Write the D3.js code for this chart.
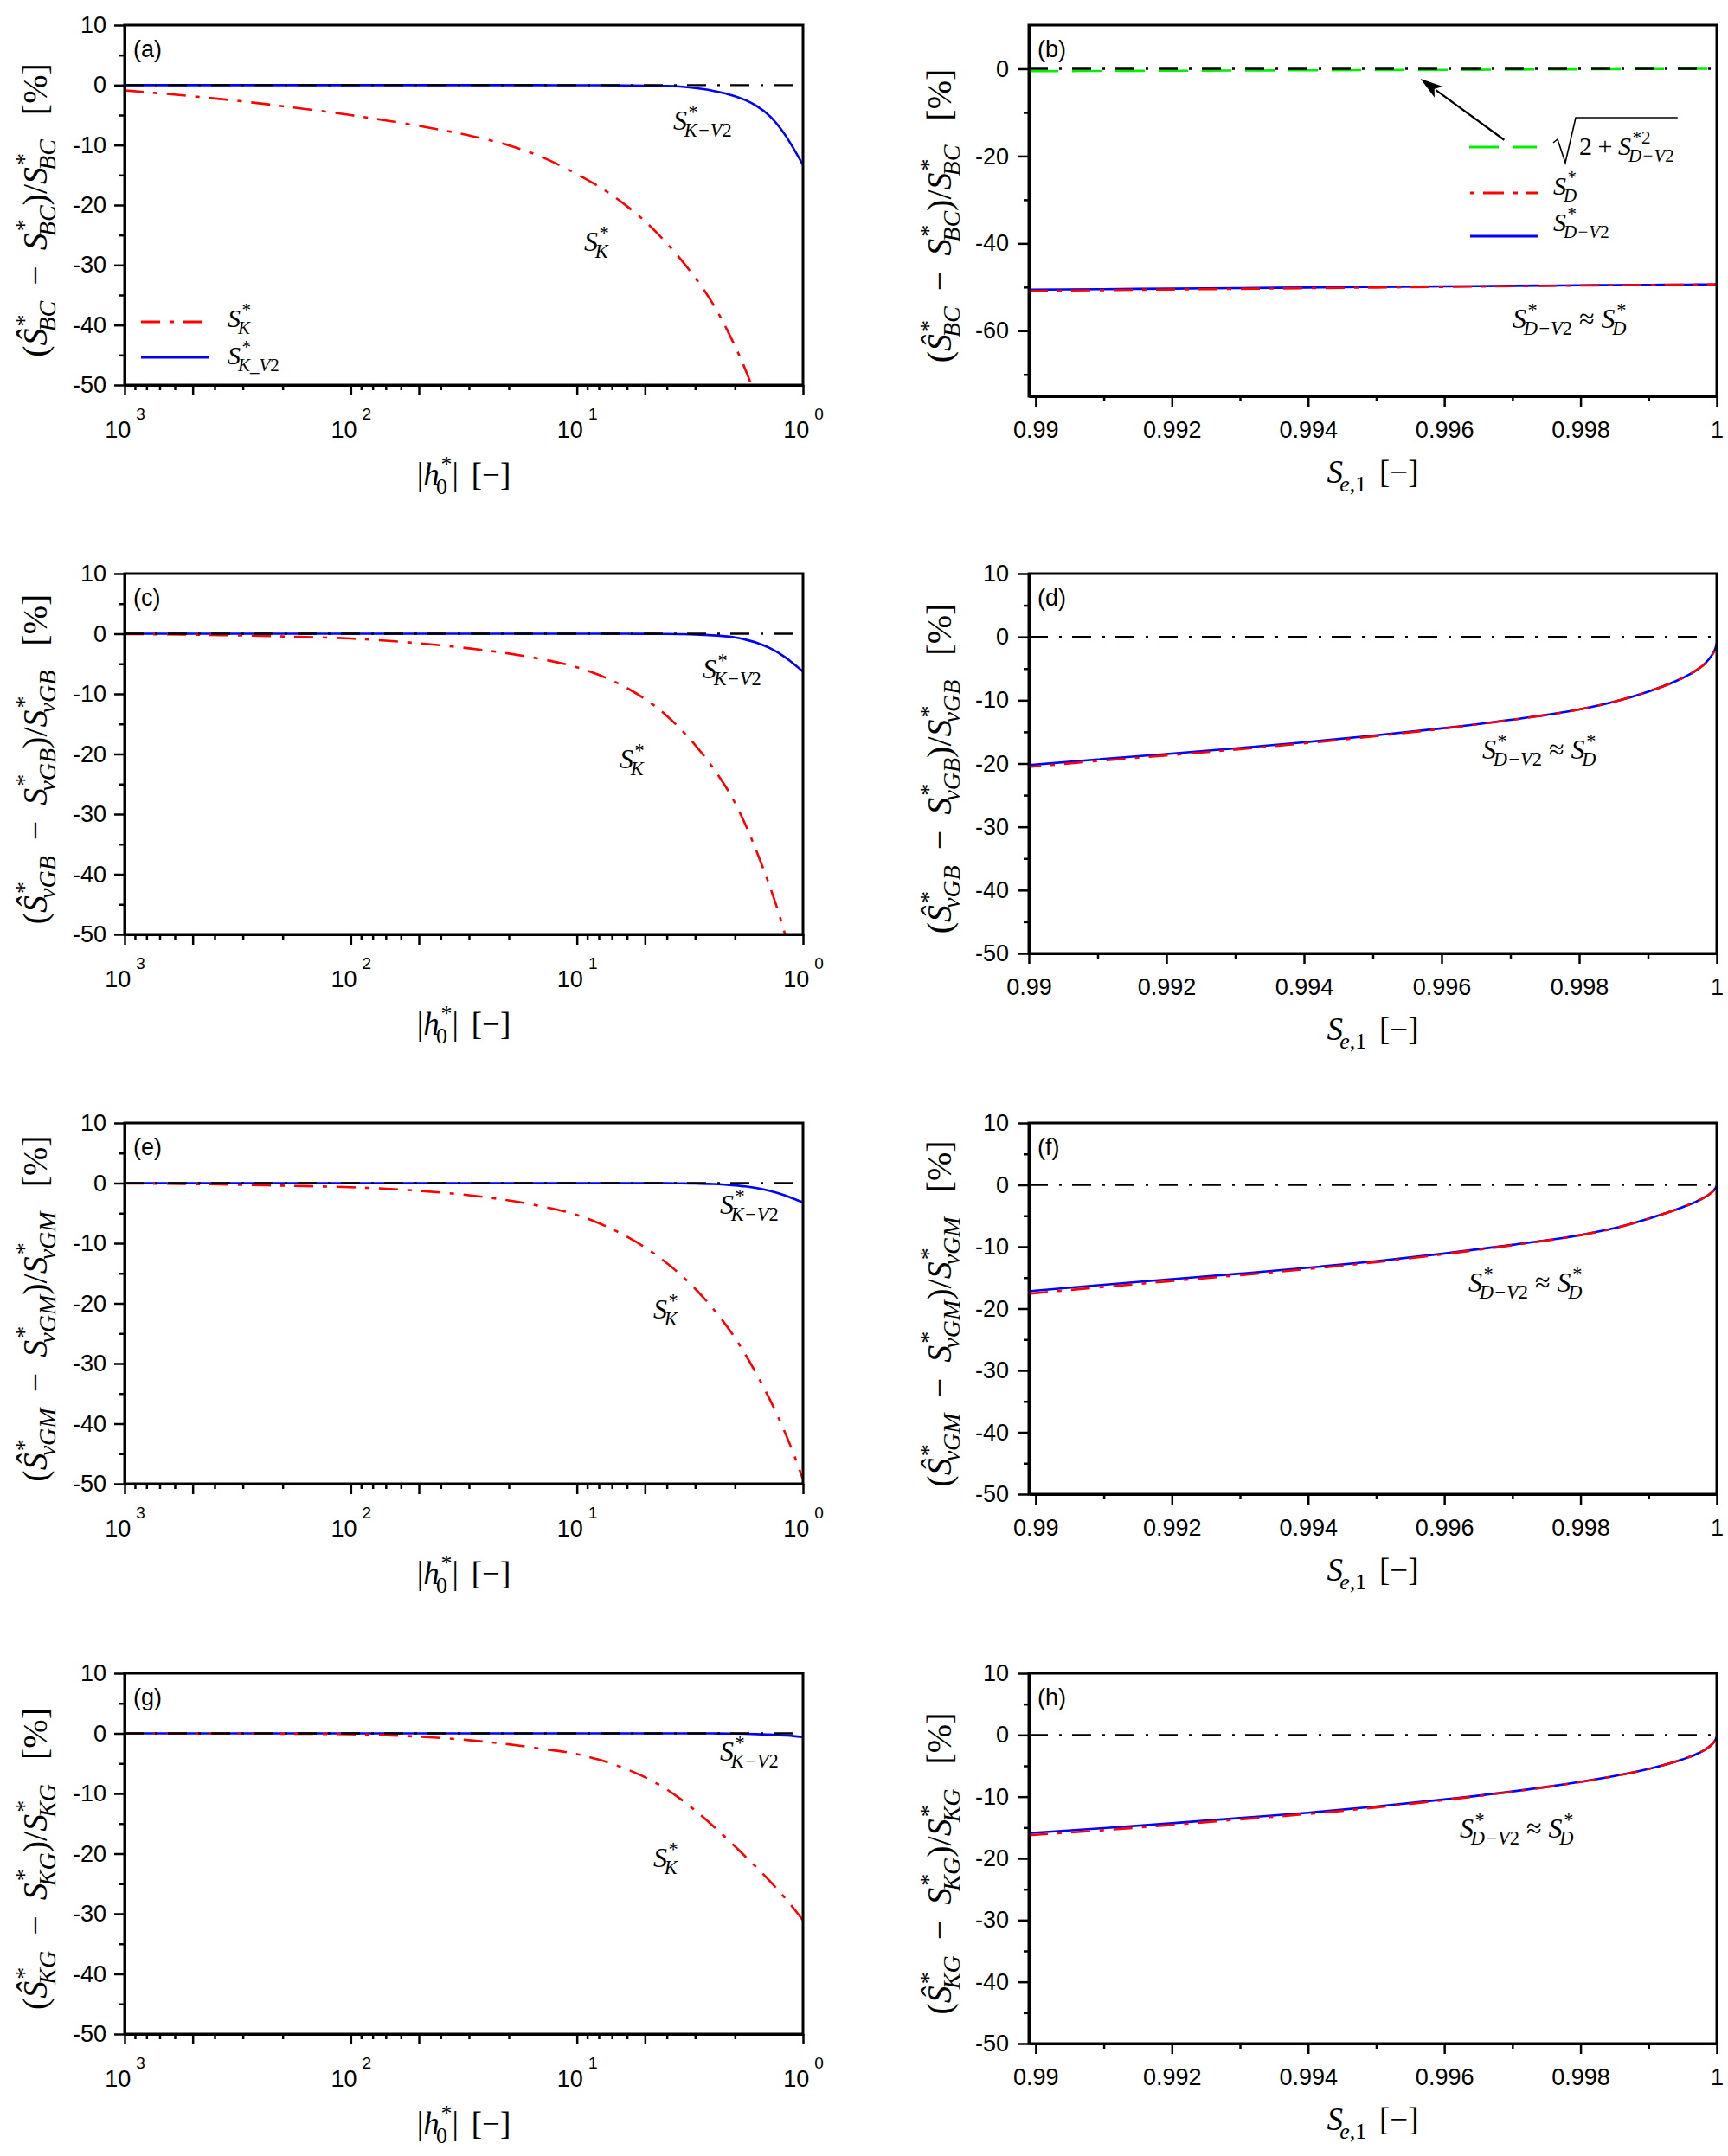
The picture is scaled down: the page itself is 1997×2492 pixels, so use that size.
<!DOCTYPE html>
<html><head><meta charset="utf-8">
<script src="https://cdn.jsdelivr.net/npm/d3@7"></script>
<style>body{margin:0;background:#fff}</style>
</head><body>
<svg id="fig" width="1997" height="2492" xmlns="http://www.w3.org/2000/svg"></svg>
<script>
// ---------------- DATA ----------------
// left panels: x = |h0*| (log axis, reversed)
const hGrid = [1000,700,500,300,200,100,70,50,30,20,15,10,8,6,5,4,3.5,3,2.5,2,1.8,1.6,1.4,1.2,1.1,1];
const hKa = [1000,700,500,300,200,100,70,50,30,20,15,10,8,6,5,4,3.5,3,2.5,2,1.8,1.7,1.68];
const Ka  = [-0.88,-1.37,-1.87,-2.73,-3.51,-5.01,-5.89,-6.8,-8.4,-10.04,-11.67,-14.84,-16.9,-20.2,-22.7,-26.4,-28.9,-32.1,-36.5,-43.5,-47.4,-49.9,-50.6];
const KV2a = [0,0,0,0,0,0,0,0,0,0,-0.01,-0.02,-0.03,-0.06,-0.1,-0.15,-0.25,-0.5,-0.95,-1.85,-2.5,-3.5,-5.2,-8.3,-10.6,-13.3];
const hKc = [1000,700,500,300,200,100,70,50,30,20,15,10,8,6,5,4,3.5,3,2.5,2,1.8,1.6,1.4,1.25,1.2];
const Kc  = [-0.05,-0.1,-0.16,-0.3,-0.45,-0.8,-1.15,-1.59,-2.43,-3.29,-4.08,-5.58,-6.84,-9.03,-10.85,-13.66,-15.75,-18.5,-22.3,-28.1,-31.7,-36.3,-42.1,-47.7,-50.0];
const KV2c = [0,0,0,0,0,0,0,0,0,0,0,0,-0.01,-0.01,-0.02,-0.04,-0.07,-0.12,-0.27,-0.62,-0.98,-1.5,-2.4,-3.9,-5.0,-6.3];
const Ke  = [-0.05,-0.1,-0.15,-0.28,-0.42,-0.68,-0.93,-1.28,-2.01,-2.89,-3.72,-5.3,-6.66,-8.91,-10.69,-13.31,-15.14,-17.55,-20.87,-25.72,-28.48,-31.85,-36.03,-41.52,-45.02,-49.3];
const KV2e = [0,0,0,0,0,0,0,0,0,0,0,0,0,0,-0.01,-0.02,-0.03,-0.06,-0.15,-0.38,-0.55,-0.83,-1.3,-2.05,-2.6,-3.2];
const Kg  = [0,-0.01,-0.02,-0.03,-0.05,-0.15,-0.3,-0.55,-1.13,-1.82,-2.44,-3.45,-4.37,-5.99,-7.29,-9.33,-10.84,-12.82,-15.39,-18.78,-20.46,-22.35,-24.6,-27.4,-29.1,-31.1];
const KV2g = [0,0,0,0,0,0,0,0,0,0,0,0,0,0,0,0,0,0,-0.01,-0.04,-0.07,-0.12,-0.2,-0.35,-0.45,-0.6];

// right panels: x = S_e,1
const seGrid = [0.9899,0.991,0.992,0.993,0.994,0.995,0.996,0.997,0.998,0.9985,0.999,0.9995,0.9997,0.9998,0.99988,0.99994,0.99998,1];
const DV2b = [-50.6,-50.47,-50.35,-50.22,-50.1,-49.97,-49.85,-49.72,-49.6,-49.54,-49.48,-49.44,-49.42,-49.41,-49.41,-49.4,-49.4,-49.4];
const Db   = [-50.9,-50.7,-50.55,-50.4,-50.25,-50.1,-49.95,-49.8,-49.65,-49.58,-49.51,-49.45,-49.43,-49.42,-49.41,-49.4,-49.4,-49.4];
const SQb  = [-0.55,-0.5,-0.45,-0.4,-0.35,-0.3,-0.25,-0.19,-0.12,-0.09,-0.06,-0.03,-0.02,-0.015,-0.01,-0.005,0,0];
const DV2d = [-20.35,-19.35,-18.5,-17.6,-16.65,-15.6,-14.45,-13.1,-11.45,-10.25,-8.65,-6.5,-5.3,-4.5,-3.6,-2.7,-1.8,-1.0];
const Dd   = [-20.65,-19.6,-18.72,-17.8,-16.82,-15.72,-14.52,-13.14,-11.47,-10.26,-8.65,-6.5,-5.3,-4.5,-3.6,-2.7,-1.8,-1.0];
const DV2f = [-17.2,-16.15,-15.25,-14.35,-13.4,-12.35,-11.1,-9.7,-8.1,-7.0,-5.45,-3.6,-2.7,-2.15,-1.6,-1.07,-0.56,-0.1];
const Df   = [-17.6,-16.5,-15.55,-14.6,-13.6,-12.5,-11.2,-9.76,-8.13,-7.02,-5.45,-3.6,-2.7,-2.15,-1.6,-1.07,-0.56,-0.1];
const DV2h = [-15.9,-15.1,-14.3,-13.45,-12.6,-11.6,-10.45,-9.15,-7.6,-6.65,-5.5,-3.95,-3.1,-2.55,-1.98,-1.4,-0.8,-0.3];
const Dh   = [-16.25,-15.42,-14.58,-13.68,-12.8,-11.75,-10.55,-9.2,-7.62,-6.66,-5.5,-3.95,-3.1,-2.55,-1.98,-1.4,-0.8,-0.3];

// tick values
const xMajL = [1000,500,100,50,10,5,1];
const xMinL = [900,800,700,600,400,300,200,90,80,70,60,40,30,20,9,8,7,6,4,3,2];
const xMajR = [0.99,0.992,0.994,0.996,0.998,1];
const xMinR = [0.991,0.993,0.995,0.997,0.999];
const yMaj10 = [10,0,-10,-20,-30,-40,-50];
const yMin10 = [5,-5,-15,-25,-35,-45];
const yMajB = [0,-20,-40,-60];
const yMinB = [-10,-30,-50,-70];

// ---------------- STYLE ----------------
const SERIF = "'Liberation Serif','DejaVu Serif',serif";
const SANS = "'Liberation Sans',Arial,sans-serif";
const RED = '#ff0000', BLUE = '#0000ff', GREEN = '#00ee00';
const DASH_RED = '22,11,5,11', DASH_REF = '22,13,3,12', DASH_GREEN = '34,16';
const TICK_FS = 27, ANN_FS = 32, LEG_FS = 30;

const svg = d3.select('#fig');
svg.append('rect').attr('width',1997).attr('height',2492).attr('fill','#fff');

// -------- math text helper --------
function segs(v){ return typeof v === 'string' ? [{s:v,it:true}] : v; }
function addText(g, list, x, y, size){
  const t = g.append('text').attr('x',x).attr('y',y).attr('font-family',SERIF).attr('font-size',size).attr('fill','#000');
  list.forEach(p => t.append('tspan').attr('font-style', p.it ? 'italic' : 'normal').text(p.s));
  return t.node().getComputedTextLength();
}
function drawMath(parent, tokens, o){
  const size = o.size;
  const outer = parent.append('g');
  const g = outer.append('g');
  let x = 0;
  tokens.forEach(tk => {
    if (tk.space !== undefined){ x += tk.space*size; return; }
    const w = addText(g, [{s:tk.s, it:!!tk.it}], x, 0, size);
    const ss = size*0.7;
    let wsup = 0, wsub = 0;
    const supDx = tk.it ? 0.05*size : 0.02*size;
    const subDx = tk.it ? -0.1*size : 0.01*size;
    if (tk.sup) wsup = supDx + addText(g, segs(tk.sup), x + w + supDx, -0.42*size, ss);
    if (tk.sub) wsub = subDx + addText(g, segs(tk.sub), x + w + subDx, 0.26*size, ss);
    x += w + Math.max(wsup, wsub, 0);
  });
  const off = o.anchor === 'middle' ? -x/2 : 0;
  g.attr('transform', `translate(${off},0)`);
  if (o.rotate) outer.attr('transform', `translate(${o.x},${o.y}) rotate(-90)`);
  else outer.attr('transform', `translate(${o.x},${o.y})`);
  outer.attr('data-w', x);
  return outer;
}

// -------- panels --------
const panels = [
 {id:'a', col:0, top:29,   bottom:445,  sub:'BC',  K:[hKa,Ka],   KV2:[hGrid,KV2a], labKV2:[778,150],  labK:[675,290],  legend:true},
 {id:'c', col:0, top:663,  bottom:1080, sub:'vGB', K:[hKc,Kc],   KV2:[hGrid,KV2c], labKV2:[812,784],  labK:[716,888]},
 {id:'e', col:0, top:1298, bottom:1715, sub:'vGM', K:[hGrid,Ke], KV2:[hGrid,KV2e], labKV2:[832,1403], labK:[755,1524]},
 {id:'g', col:0, top:1934, bottom:2351, sub:'KG',  K:[hGrid,Kg], KV2:[hGrid,KV2g], labKV2:[832,2035], labK:[755,2158]},
 {id:'b', col:1, top:29,   bottom:458,  sub:'BC',  yDom:[-75,10], yMaj:yMajB, yMin:yMinB, xLo:0.9899, D:Db, DV2:DV2b, SQ:SQb, lab:[1748,379]},
 {id:'d', col:1, top:663,  bottom:1102, sub:'vGB', yDom:[-50,10], yMaj:yMaj10, yMin:yMin10, xLo:0.99,   D:Dd, DV2:DV2d, lab:[1713,877]},
 {id:'f', col:1, top:1298, bottom:1727, sub:'vGM', yDom:[-50,10], yMaj:yMaj10, yMin:yMin10, xLo:0.9899, D:Df, DV2:DV2f, lab:[1697,1493]},
 {id:'h', col:1, top:1934, bottom:2362, sub:'KG',  yDom:[-50,10], yMaj:yMaj10, yMin:yMin10, xLo:0.9899, D:Dh, DV2:DV2h, lab:[1687,2124]},
];
const COLX = [[144,928],[1189,1984]];

function styleAxis(ax, withText){
  ax.select('.domain').attr('stroke-width',3);
  ax.selectAll('.tick line').attr('stroke-width',2.5);
  if (withText) ax.selectAll('.tick text').attr('font-family',SANS).attr('font-size',TICK_FS).attr('fill','#000');
  else ax.selectAll('.tick text').remove();
}

function drawLine(g, xs, ys, x, y, color, width, dash){
  const data = xs.map((v,i)=>[v, ys[i]]);
  data.sort((p,q)=>x(p[0])-x(q[0]));
  const line = d3.line().x(d=>x(d[0])).y(d=>y(d[1])).curve(d3.curveMonotoneX);
  g.append('path').attr('d', line(data)).attr('fill','none').attr('stroke',color)
    .attr('stroke-width',width).attr('stroke-dasharray', dash || null).attr('stroke-linejoin','round');
}

const STAR = [{s:'*',it:false}];

panels.forEach(p => {
  const [x0,x1] = COLX[p.col];
  const top = p.top, bot = p.bottom;
  const g = svg.append('g');
  let x, y;
  if (p.col === 0){
    x = d3.scaleLog().domain([1000,1]).range([x0,x1]);
    y = d3.scaleLinear().domain([-50,10]).range([bot,top]);
  } else {
    x = d3.scaleLinear().domain([p.xLo,1]).range([x0,x1]);
    y = d3.scaleLinear().domain(p.yDom).range([bot,top]);
  }
  const clipId = 'clip'+p.id;
  svg.append('clipPath').attr('id',clipId).append('rect').attr('x',x0).attr('y',top).attr('width',x1-x0).attr('height',bot-top);
  const dg = g.append('g').attr('clip-path',`url(#${clipId})`);
  const xd = x.domain();

  if (p.col === 0){
    drawLine(dg, p.KV2[0], p.KV2[1], x, y, BLUE, 2.6);
    drawLine(dg, p.K[0], p.K[1], x, y, RED, 2.6, DASH_RED);
    drawLine(dg, xd, [0,0], x, y, '#000', 2.4, DASH_REF);
  } else {
    if (p.SQ) drawLine(dg, seGrid, p.SQ, x, y, GREEN, 2.6, DASH_GREEN);
    drawLine(dg, xd, [0,0], x, y, '#000', 2.4, DASH_REF);
    drawLine(dg, seGrid, p.DV2, x, y, BLUE, 2.6);
    drawLine(dg, seGrid, p.D, x, y, RED, 2.6, DASH_RED);
  }

  // axes
  if (p.col === 0){
    const ax = g.append('g').attr('transform',`translate(0,${bot})`)
      .call(d3.axisBottom(x).tickValues(xMajL).tickSize(12).tickSizeOuter(0).tickPadding(30).tickFormat(d=>String(d)));
    styleAxis(ax, true);
    ax.selectAll('.tick text').each(function(d){
      const t = d3.select(this);
      const e = Math.round(Math.log10(d));
      if (Math.abs(Math.log10(d) - e) > 1e-9){ t.text(''); return; }
      t.text(null);
      t.append('tspan').text('10');
      t.append('tspan').attr('font-size',19).attr('dx',6).attr('dy',-21).text(String(e));
    });
    const axm = g.append('g').attr('transform',`translate(0,${bot})`)
      .call(d3.axisBottom(x).tickValues(xMinL).tickSize(6).tickSizeOuter(0).tickFormat(''));
    styleAxis(axm, false);
    axm.select('.domain').remove();
    const ay = g.append('g').attr('transform',`translate(${x0},0)`)
      .call(d3.axisLeft(y).tickValues(yMaj10).tickSize(12).tickSizeOuter(0).tickPadding(9).tickFormat(d=>String(d)));
    styleAxis(ay, true);
    const aym = g.append('g').attr('transform',`translate(${x0},0)`)
      .call(d3.axisLeft(y).tickValues(yMin10).tickSize(6).tickSizeOuter(0).tickFormat(''));
    styleAxis(aym, false); aym.select('.domain').remove();
  } else {
    const ax = g.append('g').attr('transform',`translate(0,${bot})`)
      .call(d3.axisBottom(x).tickValues(xMajR).tickSize(12).tickSizeOuter(0).tickPadding(17)
        .tickFormat(d => d===1 ? '1' : d3.format('.3~f')(d)));
    styleAxis(ax, true);
    const axm = g.append('g').attr('transform',`translate(0,${bot})`)
      .call(d3.axisBottom(x).tickValues(xMinR).tickSize(6).tickSizeOuter(0).tickFormat(''));
    styleAxis(axm, false); axm.select('.domain').remove();
    const ay = g.append('g').attr('transform',`translate(${x0},0)`)
      .call(d3.axisLeft(y).tickValues(p.yMaj).tickSize(12).tickSizeOuter(0).tickPadding(11).tickFormat(d=>String(d)));
    styleAxis(ay, true);
    const aym = g.append('g').attr('transform',`translate(${x0},0)`)
      .call(d3.axisLeft(y).tickValues(p.yMin).tickSize(6).tickSizeOuter(0).tickFormat(''));
    styleAxis(aym, false); aym.select('.domain').remove();
  }
  // frame
  g.append('rect').attr('x',x0).attr('y',top).attr('width',x1-x0).attr('height',bot-top)
    .attr('fill','none').attr('stroke','#000').attr('stroke-width',3);

  // panel label
  g.append('text').attr('x',x0+10).attr('y',top+37).attr('font-family',SANS).attr('font-size',TICK_FS).text(`(${p.id})`);

  // y title
  const s = p.sub;
  drawMath(g, [{s:'('},{s:'Ŝ',it:true,sup:STAR,sub:s},{space:0.45},{s:'−'},{space:0.45},
               {s:'S',it:true,sup:STAR,sub:s},{s:')'},{s:'/'},
               {s:'S',it:true,sup:STAR,sub:s},{space:0.7},{s:'[%]'}],
           {x: p.col===0 ? 54 : 1099, y:(top+bot)/2+6, size:40, anchor:'middle', rotate:true});

  // x title
  if (p.col === 0){
    drawMath(g, [{s:'|'},{s:'h',it:true,sup:STAR,sub:[{s:'0',it:false}]},{s:'|'},{space:0.4},{s:'[−]'}],
      {x:(x0+x1)/2, y:bot+116, size:37, anchor:'middle'});
  } else {
    drawMath(g, [{s:'S',it:true,sub:[{s:'e',it:true},{s:',1',it:false}]},{space:0.4},{s:'[−]'}],
      {x:(x0+x1)/2, y:bot+100, size:37, anchor:'middle'});
  }

  // annotations
  if (p.col === 0){
    drawMath(g, [{s:'S',it:true,sup:STAR,sub:[{s:'K−V',it:true},{s:'2',it:false}]}], {x:p.labKV2[0], y:p.labKV2[1], size:ANN_FS});
    drawMath(g, [{s:'S',it:true,sup:STAR,sub:'K'}], {x:p.labK[0], y:p.labK[1], size:ANN_FS});
  } else {
    drawMath(g, [{s:'S',it:true,sup:STAR,sub:[{s:'D−V',it:true},{s:'2',it:false}]},{space:0.25},{s:'≈'},{space:0.25},
                 {s:'S',it:true,sup:STAR,sub:'D'}], {x:p.lab[0], y:p.lab[1], size:ANN_FS});
  }

  // legend for (a)
  if (p.legend){
    g.append('line').attr('x1',163).attr('x2',242).attr('y1',372).attr('y2',372).attr('stroke',RED).attr('stroke-width',3).attr('stroke-dasharray',DASH_RED);
    g.append('line').attr('x1',163).attr('x2',242).attr('y1',413).attr('y2',413).attr('stroke',BLUE).attr('stroke-width',3);
    drawMath(g, [{s:'S',it:true,sup:STAR,sub:'K'}], {x:263, y:378, size:LEG_FS});
    drawMath(g, [{s:'S',it:true,sup:STAR,sub:[{s:'K_V',it:true},{s:'2',it:false}]}], {x:263, y:421, size:LEG_FS});
  }

  // legend + arrow for (b)
  if (p.SQ){
    const tail = [x(0.99688), y(-16.3)], tip = [x(0.99565), y(-2.3)];
    const dx = tip[0]-tail[0], dy = tip[1]-tail[1], L = Math.hypot(dx,dy);
    const ux = dx/L, uy = dy/L, hl = 26, hw = 8;
    const bx = tip[0]-ux*hl, by = tip[1]-uy*hl;
    g.append('line').attr('x1',tail[0]).attr('y1',tail[1]).attr('x2',bx+ux*4).attr('y2',by+uy*4).attr('stroke','#000').attr('stroke-width',2.2);
    g.append('path').attr('d',`M${tip[0]},${tip[1]}L${bx-uy*hw},${by+ux*hw}L${bx+ux*6},${by+uy*6}L${bx+uy*hw},${by-ux*hw}Z`).attr('fill','#000');

    g.append('line').attr('x1',1698).attr('x2',1776).attr('y1',170).attr('y2',170).attr('stroke',GREEN).attr('stroke-width',3).attr('stroke-dasharray',DASH_GREEN);
    g.append('line').attr('x1',1699).attr('x2',1777).attr('y1',223).attr('y2',223).attr('stroke',RED).attr('stroke-width',3).attr('stroke-dasharray','5,10,24,11');
    g.append('line').attr('x1',1699).attr('x2',1777).attr('y1',273).attr('y2',273).attr('stroke',BLUE).attr('stroke-width',3);
    // sqrt
    const sq = drawMath(g, [{s:'2'},{space:0.22},{s:'+'},{space:0.22},
        {s:'S',it:true,sup:[{s:'*2',it:false}],sub:[{s:'D−V',it:true},{s:'2',it:false}]}], {x:1825, y:179, size:LEG_FS});
    const w = +sq.attr('data-w');
    g.append('path').attr('d',`M1795,165L1800,161L1809,188L1821,136L${1827+w+2},136`).attr('fill','none').attr('stroke','#000').attr('stroke-width',1.6).attr('stroke-linejoin','miter');
    drawMath(g, [{s:'S',it:true,sup:STAR,sub:'D'}], {x:1795, y:225, size:LEG_FS});
    drawMath(g, [{s:'S',it:true,sup:STAR,sub:[{s:'D−V',it:true},{s:'2',it:false}]}], {x:1795, y:267, size:LEG_FS});
  }
});
</script>
</body></html>
